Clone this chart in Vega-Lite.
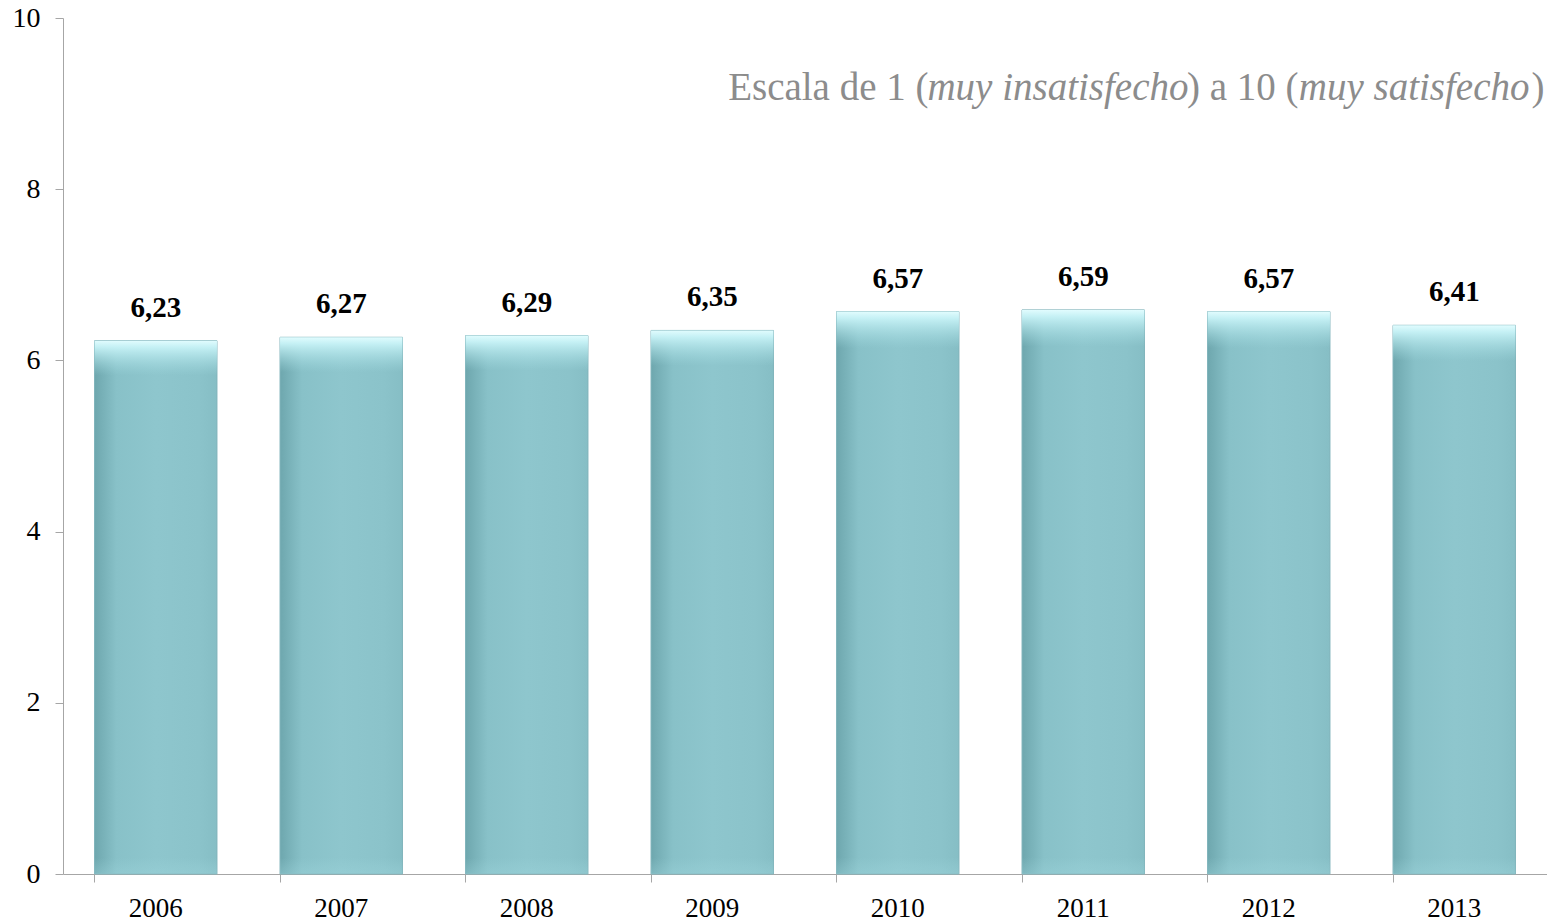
{
  "$schema": "https://vega.github.io/schema/vega-lite/v6.json",
  "width": 1484,
  "height": 856,
  "autosize": "none",
  "padding": {"left": 63, "top": 18, "right": 0, "bottom": 49},
  "background": "white",
  "config": {
    "view": {"stroke": null},
    "locale": {"number": {"decimal": ",", "thousands": ".", "grouping": [3], "currency": ["", " €"]}},
    "font": "Liberation Serif"
  },
  "datasets": {
    "bars": [
      {"year": "2006", "value": 6.23},
      {"year": "2007", "value": 6.27},
      {"year": "2008", "value": 6.29},
      {"year": "2009", "value": 6.35},
      {"year": "2010", "value": 6.57},
      {"year": "2011", "value": 6.59},
      {"year": "2012", "value": 6.57},
      {"year": "2013", "value": 6.41}
    ],
    "note": [
      {"year": "2013", "pos": 9, "seg": "Escala de 1 (", "part": "a"},
      {"year": "2013", "pos": 9, "seg": "muy insatisfecho", "part": "b"},
      {"year": "2013", "pos": 9, "seg": ") a 10 (", "part": "c"},
      {"year": "2013", "pos": 9, "seg": "muy satisfecho", "part": "d"},
      {"year": "2013", "pos": 9, "seg": ")", "part": "e"}
    ]
  },
  "layer": [
    {
      "data": {"name": "bars"},
      "mark": {
        "type": "bar",
        "stroke": "#7fb3ba", "strokeWidth": 1,
        "fill": {
          "gradient": "linear", "x1": 0, "y1": 0, "x2": 1, "y2": 0,
          "stops": [
            {"offset": 0, "color": "#6ea7ae"},
            {"offset": 0.18, "color": "#88c1c8"},
            {"offset": 0.5, "color": "#8ec6cd"},
            {"offset": 0.85, "color": "#8bc3ca"},
            {"offset": 1, "color": "#86bec5"}
          ]
        }
      },
      "encoding": {
        "x": {
          "field": "year", "type": "nominal", "title": null,
          "scale": {"paddingInner": 0.34, "paddingOuter": 0.17},
          "axis": {
            "labelAngle": 0, "bandPosition": 0, "labelFont": "Liberation Serif", "labelFontSize": 27,
            "labelColor": "#000000", "labelPadding": 13, "tickSize": 8, "tickColor": "#a6a6a6",
            "domainColor": "#a6a6a6", "labelBaseline": "top"
          }
        },
        "y": {
          "field": "value", "type": "quantitative", "title": null,
          "scale": {"domain": [0, 10], "nice": false},
          "axis": {
            "values": [0, 2, 4, 6, 8, 10], "format": "d", "grid": false, "labelFont": "Liberation Serif", "labelFontSize": 28,
            "labelColor": "#000000", "labelPadding": 15, "tickSize": 8, "tickColor": "#a6a6a6",
            "domainColor": "#a6a6a6"
          }
        }
      }
    },
    {
      "data": {"name": "bars"},
      "mark": {
        "type": "bar",
        "fill": {
          "gradient": "linear", "x1": 0, "y1": 0, "x2": 0, "y2": 1,
          "stops": [
            {"offset": 0, "color": "rgba(225,252,254,1)"},
            {"offset": 0.012, "color": "rgba(200,243,247,0.95)"},
            {"offset": 0.065, "color": "rgba(165,222,228,0)"},
            {"offset": 0.97, "color": "rgba(165,222,228,0)"},
            {"offset": 1, "color": "rgba(160,215,222,0.35)"}
          ]
        }
      },
      "encoding": {
        "x": {"field": "year", "type": "nominal"},
        "y": {"field": "value", "type": "quantitative"}
      }
    },
    {
      "data": {"name": "bars"},
      "mark": {"type": "text", "font": "Liberation Serif", "fontWeight": "bold", "fontSize": 29, "baseline": "bottom", "dy": -18, "color": "#000000"},
      "encoding": {
        "x": {"field": "year", "type": "nominal"},
        "y": {"field": "value", "type": "quantitative"},
        "text": {"field": "value", "type": "quantitative", "format": ".2f"}
      }
    },
    {
      "data": {"name": "note"},
      "transform": [{"filter": "datum.part == 'a'"}],
      "mark": {"type": "text", "font": "Liberation Serif", "fontSize": 39, "align": "right", "baseline": "alphabetic", "dx": -587, "dy": -4, "color": "#8c8c8c"},
      "encoding": {"x": {"field": "year", "type": "nominal", "bandPosition": 1}, "y": {"field": "pos", "type": "quantitative"}, "text": {"field": "seg"}}
    },
    {
      "data": {"name": "note"},
      "transform": [{"filter": "datum.part == 'b'"}],
      "mark": {"type": "text", "font": "Liberation Serif", "fontStyle": "italic", "fontSize": 39, "align": "right", "baseline": "alphabetic", "dx": -327, "dy": -4, "color": "#8c8c8c"},
      "encoding": {"x": {"field": "year", "type": "nominal", "bandPosition": 1}, "y": {"field": "pos", "type": "quantitative"}, "text": {"field": "seg"}}
    },
    {
      "data": {"name": "note"},
      "transform": [{"filter": "datum.part == 'c'"}],
      "mark": {"type": "text", "font": "Liberation Serif", "fontSize": 39, "align": "right", "baseline": "alphabetic", "dx": -217, "dy": -4, "color": "#8c8c8c"},
      "encoding": {"x": {"field": "year", "type": "nominal", "bandPosition": 1}, "y": {"field": "pos", "type": "quantitative"}, "text": {"field": "seg"}}
    },
    {
      "data": {"name": "note"},
      "transform": [{"filter": "datum.part == 'd'"}],
      "mark": {"type": "text", "font": "Liberation Serif", "fontStyle": "italic", "fontSize": 39, "align": "right", "baseline": "alphabetic", "dx": 14, "dy": -4, "color": "#8c8c8c"},
      "encoding": {"x": {"field": "year", "type": "nominal", "bandPosition": 1}, "y": {"field": "pos", "type": "quantitative"}, "text": {"field": "seg"}}
    },
    {
      "data": {"name": "note"},
      "transform": [{"filter": "datum.part == 'e'"}],
      "mark": {"type": "text", "font": "Liberation Serif", "fontSize": 39, "align": "right", "baseline": "alphabetic", "dx": 29, "dy": -4, "color": "#8c8c8c"},
      "encoding": {"x": {"field": "year", "type": "nominal", "bandPosition": 1}, "y": {"field": "pos", "type": "quantitative"}, "text": {"field": "seg"}}
    }
  ]
}
